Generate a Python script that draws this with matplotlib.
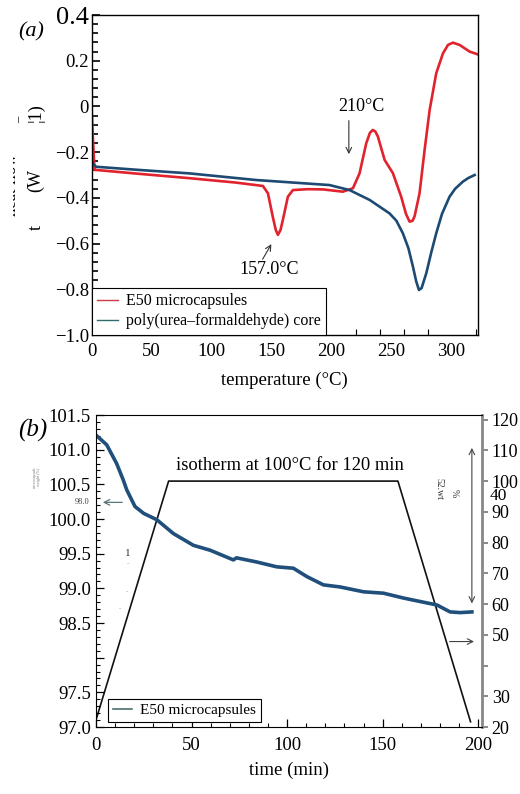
import numpy as np
import matplotlib
matplotlib.use("Agg")
import matplotlib.pyplot as plt
from matplotlib.ticker import MultipleLocator
from matplotlib.lines import Line2D
from matplotlib.patches import Rectangle
import matplotlib.transforms as mtransforms

plt.rcParams["font.family"] = ["Liberation Serif", "DejaVu Serif"]
plt.rcParams["mathtext.fontset"] = "stix"

W, H = 520, 794

# ===== DATA : panel (a) DSC =====
dsc_red_T = [0, 1, 2.5, 3.9, 40, 81.7, 120, 142.8, 147, 151, 153.5, 155.3, 157.5, 159.4, 163.6,
             167.8, 180, 192.8, 209.4, 217.8, 223.3, 228.9, 232, 234.4, 236.5, 238.6, 244.2,
             251.1, 258, 262, 265, 267.5, 269.2, 273.3, 277.5, 281.7, 287.2, 292.8, 297,
             301.1, 306.7, 315, 323.3]
dsc_red_v = [0.0, -0.12, -0.278, -0.278, -0.295, -0.314, -0.333, -0.348, -0.38, -0.482, -0.54,
             -0.562, -0.54, -0.497, -0.395, -0.366, -0.362, -0.363, -0.373, -0.358, -0.293,
             -0.161, -0.115, -0.103, -0.11, -0.132, -0.234, -0.292, -0.395, -0.47, -0.504,
             -0.5, -0.48, -0.38, -0.191, -0.016, 0.145, 0.232, 0.269, 0.279, 0.269, 0.24, 0.225]

dsc_blue_T = [0.5, 2, 3.9, 40, 81.7, 137.2, 198.3, 215, 231.7, 248.3, 254, 259.4, 264, 267.8,
              270.5, 272.8, 275, 278.9, 283, 287.2, 292, 298.3, 303, 309.4, 314, 319.2]
dsc_blue_v = [-0.24, -0.255, -0.264, -0.278, -0.293, -0.322, -0.344, -0.366, -0.409, -0.468,
              -0.5, -0.555, -0.62, -0.701, -0.765, -0.803, -0.795, -0.73, -0.64, -0.555,
              -0.47, -0.395, -0.36, -0.329, -0.313, -0.3]

dsc_yticks = [-1.0, -0.8, -0.6, -0.4, -0.2, 0, 0.2, 0.4]
dsc_ylabels = ["\u22121.0", "\u22120.8", "\u22120.6", "\u22120.4", "\u22120.2", "0", "0.2", "0.4"]
dsc_xticks = [0, 50, 100, 150, 200, 250, 300]

# ===== DATA : panel (b) TGA =====
tga_t = [0, 5.6, 10.8, 14.3, 16.1, 20.4, 25, 31.8, 40.5, 51, 59.7, 71.9, 73.5, 84.1, 94.6,
         103.3, 110.3, 119, 127.7, 140, 150.4, 160.9, 169.6, 178.4, 185.3, 190.6, 196.7]
tga_mass = [101.21, 101.07, 100.80, 100.56, 100.42, 100.18, 100.08, 99.99, 99.79, 99.62, 99.55,
            99.41, 99.44, 99.38, 99.31, 99.29, 99.17, 99.05, 99.02, 98.95, 98.93, 98.86, 98.81,
            98.76, 98.66, 98.65, 98.66]

temp_t = [0, 38, 158, 196]
temp_C = [22.3, 100, 100, 21.7]

mass_yticks = [97.0, 97.5, 98.0, 98.5, 99.0, 99.5, 100.0, 100.5, 101.0, 101.5]
mass_ylabels = ["97.0", "97.5", "", "98.5", "99.0", "99.5", "100.0", "100.5", "101.0", "101.5"]
temp_yticks = [20, 30, 40, 50, 60, 70, 80, 90, 100, 110, 120]
temp_ylabels = ["20", "30", "", "50", "60", "70", "80", "90", "100", "110", "120"]
time_xticks = [0, 50, 100, 150, 200]

RED = "#e0232d"
BLUE = "#1d4a73"


def fpos(x, y):
    return x / W, 1 - y / H


fig = plt.figure(figsize=(W / 100, H / 100), dpi=100)

# ---------- panel (a) ----------
axa = fig.add_axes([91.5 / W, 1 - 335 / H, (478 - 91.5) / W, (335 - 15) / H])
axa.plot(dsc_red_T, dsc_red_v, color=RED, lw=1.9, solid_joinstyle="round")
axa.plot(dsc_blue_T, dsc_blue_v, color=BLUE, lw=1.9, solid_joinstyle="round")
axa.set_xlim(0, 322)
axa.set_ylim(-1.0, 0.4)
axa.set_yticks(dsc_yticks)
axa.set_yticklabels(dsc_ylabels)
axa.yaxis.set_minor_locator(MultipleLocator(0.04))
axa.set_xticks(dsc_xticks)
axa.xaxis.set_minor_locator(MultipleLocator(20))
axa.tick_params(axis="y", which="major", direction="in", length=6, width=1.2, labelsize=13.5, pad=2)
axa.tick_params(axis="y", which="minor", direction="in", length=4, width=1.2)
axa.tick_params(axis="x", which="major", direction="in", length=0, labelsize=13.5, pad=6)
axa.tick_params(axis="x", which="minor", direction="in", length=4, width=0.8)
axa.get_yticklabels()[-1].set_fontsize(19)
for sp in axa.spines.values():
    sp.set_linewidth(1.0)
axa.set_xlabel("temperature (\u00b0C)", fontsize=13.5, labelpad=8)

axa.annotate("", xy=(214.4, -0.221), xytext=(214.4, -0.05),
             arrowprops=dict(arrowstyle="->", color="#333333", lw=0.8))
axa.text(224.7, 0.0, "210\u00b0C", fontsize=13, ha="center", va="center")
axa.annotate("", xy=(151, -0.592), xytext=(141.4, -0.679),
             arrowprops=dict(arrowstyle="->", color="#333333", lw=0.8))
axa.text(148.3, -0.715, "157.0\u00b0C", fontsize=13, ha="center", va="center")

handles_a = [Line2D([], [], color="#cc3a44", lw=1.0), Line2D([], [], color="#2f6b6b", lw=1.0)]
leg_a = axa.legend(handles_a, ["E50 microcapsules", "poly(urea\u2013formaldehyde) core"],
                   loc="lower left", bbox_to_anchor=(0, 0), borderaxespad=0, fontsize=11.5,
                   fancybox=False, framealpha=1, edgecolor="black", handlelength=1.3,
                   handletextpad=0.5, borderpad=0.35, labelspacing=0.25)
leg_a.get_frame().set_linewidth(0.8)

# garbled axis title pieces of (a)
fig.text(*fpos(36, 227), "t", rotation=90, fontsize=13, ha="center", va="center")
fig.text(*fpos(36, 180), "(W", rotation=90, fontsize=13, ha="center", va="center")
fig.text(*fpos(36, 113), "\u00a61)", rotation=90, fontsize=13, ha="center", va="center")
fig.text(*fpos(19, 120), "\u2013", rotation=90, fontsize=9, ha="center", va="center")
t_cut = fig.text(*fpos(12, 185), "heat flow", rotation=90, fontsize=12, ha="center", va="center")
t_cut.set_clip_path(Rectangle(fpos(13, 260), 30 / W, 200 / H, transform=fig.transFigure))
fig.text(*fpos(31, 32), "(a)", fontsize=16, style="italic", ha="center", va="center")

# ---------- panel (b) ----------
axb = fig.add_axes([96 / W, 1 - 727 / H, (482 - 96) / W, (727 - 415) / H])
axb.plot(tga_t, tga_mass, color="#1f4f7a", lw=2.6, solid_joinstyle="round")
axb.set_xlim(0, 202)
axb.set_ylim(97.0, 101.5)
axb.set_yticks(mass_yticks)
axb.set_yticklabels(mass_ylabels)
axb.yaxis.set_minor_locator(MultipleLocator(0.1))
axb.set_xticks(time_xticks)
axb.xaxis.set_minor_locator(MultipleLocator(10))
axb.tick_params(axis="both", which="major", direction="in", length=6, width=0.9, labelsize=13.5)
axb.tick_params(axis="both", which="minor", direction="in", length=3, width=0.8)
axb.tick_params(axis="x", pad=7)
axb.set_xlabel("time (min)", fontsize=13.5, labelpad=6)
axb.spines["right"].set_visible(False)

axb2 = axb.twinx()
axb2.plot(temp_t, temp_C, color="#111111", lw=1.2)
axb2.set_ylim(20, 121.5)
axb2.set_yticks(temp_yticks)
axb2.set_yticklabels(temp_ylabels)
axb2.tick_params(axis="y", direction="out", length=4, width=1.4, color="#888888",
                 labelsize=13, pad=3)
axb2.spines["right"].set_color("#888888")
axb2.spines["right"].set_linewidth(2.0)
for s in ["left", "top", "bottom"]:
    axb2.spines[s].set_visible(False)
blend = mtransforms.blended_transform_factory(axb2.transAxes, axb2.transData)
axb2.text(1.02, 95.0, "40", transform=blend, fontsize=12.5, ha="left", va="center")

axb2.text(101.5, 105.2, "isotherm at 100\u00b0C for 120 min", fontsize=13.3,
          ha="center", va="center")
axb2.annotate("", xy=(196.7, 111.7), xytext=(196.7, 59.3),
              arrowprops=dict(arrowstyle="<->", color="#444444", lw=0.8))
axb2.annotate("", xy=(199.3, 47.8), xytext=(183.6, 47.8),
              arrowprops=dict(arrowstyle="->", color="#444444", lw=0.8))
axb2.text(179.5, 97.5, "52.wt", rotation=270, fontsize=7, ha="center", va="center", color="#333333")
axb2.text(187.5, 96.0, "%", rotation=270, fontsize=7, ha="center", va="center", color="#333333")

axb.annotate("", xy=(2.1, 100.24), xytext=(15.2, 100.24),
             arrowprops=dict(arrowstyle="->", color="#5a7575", lw=0.9))
axb.text(16.8, 99.5, "1", fontsize=8, ha="center", va="center", color="#333333")
axb.text(16.5, 99.35, "-", fontsize=5, ha="center", va="center", color="#999999")
axb.text(16.0, 98.95, "-", fontsize=5, ha="center", va="center", color="#999999")
axb.text(12.5, 98.7, "-", fontsize=5, ha="center", va="center", color="#999999")

fig.text(*fpos(81.7, 501.7), "98.0", fontsize=6, ha="center", va="center", color="#444444")
fig.text(*fpos(37, 477), "microcapsule\nweight (%)", rotation=90, fontsize=3,
         ha="center", va="center", color="#777777", linespacing=1.0)
fig.text(*fpos(33, 430), "(b)", fontsize=18, style="italic", ha="center", va="center")

handles_b = [Line2D([], [], color="#4a7070", lw=1.2)]
leg_b = axb.legend(handles_b, ["E50 microcapsules"], loc="lower left",
                   bbox_to_anchor=(0.031, 0.016), borderaxespad=0, fontsize=11,
                   fancybox=False, framealpha=1, edgecolor="black", handlelength=1.3,
                   handletextpad=0.5, borderpad=0.3)
leg_b.get_frame().set_linewidth(0.8)
axb.set_zorder(axb2.get_zorder() + 1)
axb.patch.set_visible(False)

fig.savefig("out.png", dpi=100)
